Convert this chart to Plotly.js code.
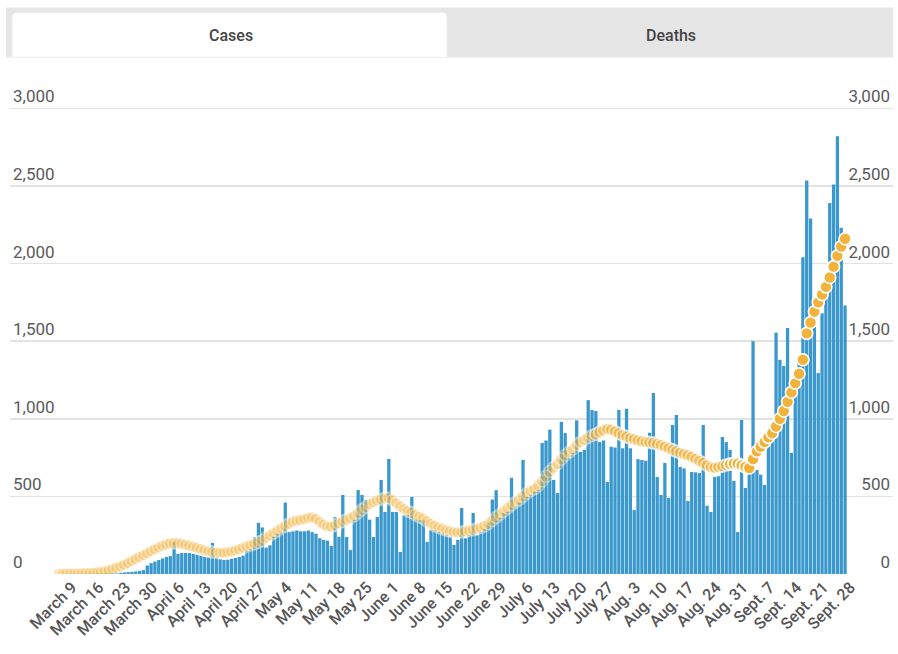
<!DOCTYPE html>
<html>
<head>
<meta charset="utf-8">
<script src="https://cdn.plot.ly/plotly-3.0.1.min.js"></script>
<style>
  html, body { margin: 0; padding: 0; background: #ffffff; }
  #chart { width: 898px; height: 654px; }
</style>
</head>
<body>
<div id="chart"></div>
<script>
// ---- Data ----
const startDate = '2020-03-09';

const cases = [
  0,0,0,1,1,1,2,
  2,2,3,3,4,5,6,
  7,8,9,10,12,14,16,
  20,25,55,70,80,90,100,
  110,115,205,130,135,135,135,
  130,125,118,112,108,200,105,
  95,90,92,98,103,110,118,
  150,160,238,330,300,170,185,
  240,260,265,460,270,275,280,
  275,275,280,270,260,230,220,
  215,180,367,240,509,238,155,
  348,541,509,477,350,238,367,
  606,400,741,400,400,142,380,
  380,496,350,348,345,206,285,
  280,270,260,250,240,187,220,
  425,230,250,393,250,270,290,
  330,480,540,360,393,400,620,
  430,460,735,496,510,530,541,
  844,860,930,606,522,980,908,
  750,780,990,786,800,1120,1057,
  1050,850,860,593,820,815,1057,
  810,1065,810,412,740,735,730,
  910,1166,625,509,715,490,960,
  1025,690,680,470,657,655,650,
  960,440,400,625,630,883,850,
  800,600,270,992,554,680,1500,
  670,640,573,860,870,1555,1380,
  1340,1585,780,1250,1380,2040,2535,
  2290,1680,1295,1680,1900,2390,2510,
  2820,2230,1730
];

const avg7 = [
  2,2,3,3,4,4,5,
  6,7,9,11,14,18,24,
  32,40,50,60,72,85,98,
  110,122,135,148,160,172,183,
  192,198,200,198,194,188,182,
  175,168,160,152,146,141,138,
  137,138,141,146,152,160,170,
  180,187,195,205,215,235,250,
  265,280,296,310,325,338,345,
  348,355,362,365,355,335,318,
  305,305,315,328,340,350,361,
  375,395,415,432,450,465,475,
  482,488,490,475,455,435,418,
  405,395,380,368,358,340,322,
  310,300,290,282,275,270,268,
  270,275,280,285,292,300,310,
  325,345,365,385,405,425,445,
  462,480,500,520,538,550,570,
  600,630,660,685,710,740,765,
  785,805,835,850,865,880,892,
  900,915,925,935,930,918,905,
  895,885,875,868,860,855,850,
  848,845,838,830,820,810,800,
  790,780,772,765,755,742,728,
  715,700,688,685,690,695,702,
  708,712,710,700,690,683,740,
  790,820,850,880,908,950,1000,
  1050,1110,1170,1230,1290,1380,1550,
  1620,1690,1750,1800,1850,1910,1980,
  2050,2110,2160
];

const tickLabels = ['March 9','March 16','March 23','March 30','April 6','April 13','April 20','April 27',
  'May 4','May 11','May 18','May 25','June 1','June 8','June 15','June 22','June 29',
  'July 6','July 13','July 20','July 27','Aug. 3','Aug. 10','Aug. 17','Aug. 24','Aug. 31',
  'Sept. 7','Sept. 14','Sept. 21','Sept. 28'];

const yTicks = [0, 500, 1000, 1500, 2000, 2500, 3000];

const tabLabels = ['Cases', 'Deaths'];

// ---- helpers ----
const DAY = 86400000;
const t0 = Date.parse(startDate + 'T00:00:00Z');
function dateAt(d) {
  const dt = new Date(t0 + d * DAY);
  return dt.toISOString().slice(0, 19).replace('T', ' ');
}
const dates = cases.map((_, i) => dateAt(i));
const tickVals = tickLabels.map((_, i) => dateAt(i * 7));

// styling: early average markers are paler than the recent ones
const dotOpacity = avg7.map((_, i) => i >= 175 ? 1 : (i >= 140 ? 0.6 : 0.36));

// geometry (pixels) of the plotting region
const L = 10, R = 893, B = 574;
const PX_PER_UNIT = 466 / 3000;        // 3,000 gridline at y = 108
const YMAX = 3260;                      // headroom so the top labels are drawn
const T = B - YMAX * PX_PER_UNIT;
const px = x => (x - L) / (R - L);
const py = y => (B - y) / (B - T);

function roundTopRect(x0, y0, x1, y1, r) {
  const rx = r / (R - L), ry = r / (B - T);
  const X0 = px(x0), X1 = px(x1), Y0 = py(y0), Y1 = py(y1);
  return `M ${X0} ${Y1} L ${X0} ${Y0 - ry} Q ${X0} ${Y0} ${X0 + rx} ${Y0} ` +
         `L ${X1 - rx} ${Y0} Q ${X1} ${Y0} ${X1} ${Y0 - ry} L ${X1} ${Y1} Z`;
}

const traces = [
  {
    type: 'bar',
    x: dates,
    y: cases,
    marker: { color: '#3a98cc' },
    hoverinfo: 'skip',
    showlegend: false
  },
  {
    type: 'scatter',
    mode: 'markers',
    x: dates,
    y: avg7,
    marker: {
      size: 12,
      color: '#f2b33d',
      opacity: dotOpacity,
      line: { color: '#ffffff', width: 1.6 }
    },
    hoverinfo: 'skip',
    showlegend: false
  },
  {
    type: 'scatter',
    mode: 'markers',
    x: [dates[0]],
    y: [0],
    yaxis: 'y2',
    marker: { size: 1, opacity: 0 },
    hoverinfo: 'skip',
    showlegend: false
  }
];

const font = 'Roboto, "Open Sans", Arial, sans-serif';

const layout = {
  width: 898,
  height: 654,
  margin: { l: L, r: 898 - R, t: T, b: 654 - B },
  paper_bgcolor: '#ffffff',
  plot_bgcolor: 'rgba(0,0,0,0)',
  bargap: 0.14,
  font: { family: font, color: '#555555' },
  xaxis: {
    type: 'date',
    range: [dateAt(-12.8), dateAt(217.5)],
    tickvals: tickVals,
    ticktext: tickLabels,
    tickangle: -45,
    tickfont: { family: font, size: 16, color: '#555555', weight: 500 },
    ticklabelshift: 13,
    showgrid: false,
    zeroline: false,
    showline: false,
    ticks: ''
  },
  yaxis: {
    range: [0, YMAX],
    tickvals: yTicks,
    tickformat: ',d',
    ticklabelposition: 'inside top',
    tickfont: { family: font, size: 17, color: '#5a5a5a' },
    gridcolor: '#e2e2e2',
    gridwidth: 1.5,
    zeroline: false,
    showline: false,
    ticks: ''
  },
  yaxis2: {
    overlaying: 'y',
    side: 'right',
    range: [0, YMAX],
    tickvals: yTicks,
    tickformat: ',d',
    ticklabelposition: 'inside top',
    tickfont: { family: font, size: 17, color: '#5a5a5a' },
    showgrid: false,
    zeroline: false,
    showline: false,
    ticks: ''
  },
  shapes: [
    {
      type: 'rect', xref: 'paper', yref: 'paper', layer: 'below',
      x0: px(6), x1: px(893), y0: py(57), y1: py(7),
      fillcolor: '#e6e6e6', line: { width: 0 }
    },
    {
      type: 'path', xref: 'paper', yref: 'paper', layer: 'below',
      path: roundTopRect(12, 12, 447, 57, 5),
      fillcolor: '#ffffff', line: { color: '#ececec', width: 1 }
    }
  ],
  annotations: [
    {
      text: tabLabels[0], xref: 'paper', yref: 'paper',
      x: px(231), y: py(35), xanchor: 'center', yanchor: 'middle', showarrow: false,
      font: { family: font, size: 16, color: '#444444', weight: 500 }
    },
    {
      text: tabLabels[1], xref: 'paper', yref: 'paper',
      x: px(671), y: py(35), xanchor: 'center', yanchor: 'middle', showarrow: false,
      font: { family: font, size: 16, color: '#444444', weight: 500 }
    }
  ]
};

Plotly.newPlot('chart', traces, layout, { displayModeBar: false, staticPlot: true });
</script>
</body>
</html>
